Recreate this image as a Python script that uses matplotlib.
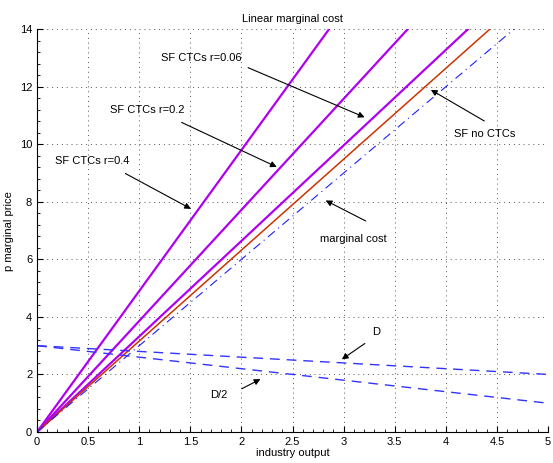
import numpy as np
from matplotlib import pyplot as plt
from matplotlib.ticker import MultipleLocator

plt.rcParams['font.family'] = ['Liberation Sans', 'DejaVu Sans']

# slopes of the supply functions (price = slope * output)
q = [0, 5]
mc_slope = 3.0
sf_no_ctc_slope = 3.16
ctc_r = ['0.06', '0.2', '0.4']
ctc_slopes = [3.32, 3.86, 4.9]

# linear demand curves
demand_q = [0, 5]
demand_D = [3, 2]
demand_D2 = [3, 1]

fig = plt.figure(figsize=(5.53, 4.63), dpi=100)
ax = fig.add_axes([0.067, 0.067, 0.924, 0.870])

q = np.array(q)
for s in ctc_slopes:
    ax.plot(q, s * q, color='#b000f0', lw=1.6)
ax.plot(q, sf_no_ctc_slope * q, color='#cc3300', lw=1.1)
ax.plot(q, mc_slope * q, color='#1f1fff', lw=0.8, linestyle=(0, (8, 4, 1, 4)))
ax.plot(demand_q, demand_D, color='#3333ff', lw=1.0, linestyle=(0, (7, 5)))
ax.plot(demand_q, demand_D2, color='#3333ff', lw=1.0, linestyle=(0, (7, 5)))

ax.set_xlim(0, 5)
ax.set_ylim(0, 14)
ax.xaxis.set_major_locator(MultipleLocator(0.5))
ax.yaxis.set_major_locator(MultipleLocator(2))
ax.xaxis.set_minor_locator(MultipleLocator(0.1))
ax.yaxis.set_minor_locator(MultipleLocator(0.4))
ax.xaxis.set_major_formatter(plt.FuncFormatter(lambda v, p: ('%g' % v)))
ax.tick_params(which='both', direction='in', labelsize=8)
ax.tick_params(which='major', length=4)
ax.tick_params(which='minor', length=2)
ax.grid(True, which='major', linestyle=(0, (1, 4)), color='#555555', lw=0.7)
ax.spines['top'].set_visible(False)
ax.spines['right'].set_visible(False)

ax.set_title('Linear marginal cost', fontsize=8, pad=5)
ax.set_xlabel('industry output', fontsize=8, labelpad=1)
ax.set_ylabel('p marginal price', fontsize=8, labelpad=4)

arrow = dict(arrowstyle='-|>', color='black', lw=0.8, mutation_scale=9)
notes = [
    ('SF CTCs r=0.06', (1.61, 13.0), (2.04, 12.7), (3.23, 10.9)),
    ('SF CTCs r=0.2', (1.08, 11.2), (1.39, 10.8), (2.37, 9.17)),
    ('SF CTCs r=0.4', (0.54, 9.41), (0.84, 9.03), (1.53, 7.71)),
    ('SF no CTCs', (4.38, 10.35), (4.40, 10.76), (3.83, 11.94)),
    ('marginal cost', (3.09, 6.70), (3.24, 7.29), (2.80, 8.09)),
    ('D', (3.32, 3.47), (3.23, 3.13), (2.96, 2.47)),
    ('D/2', (1.78, 1.28), (1.98, 1.46), (2.21, 1.88)),
]
for label, txt, start, end in notes:
    ax.text(txt[0], txt[1], label, fontsize=8, ha='center', va='center')
    ax.annotate('', xy=end, xytext=start, arrowprops=arrow)

plt.savefig('out.png', dpi=100)
